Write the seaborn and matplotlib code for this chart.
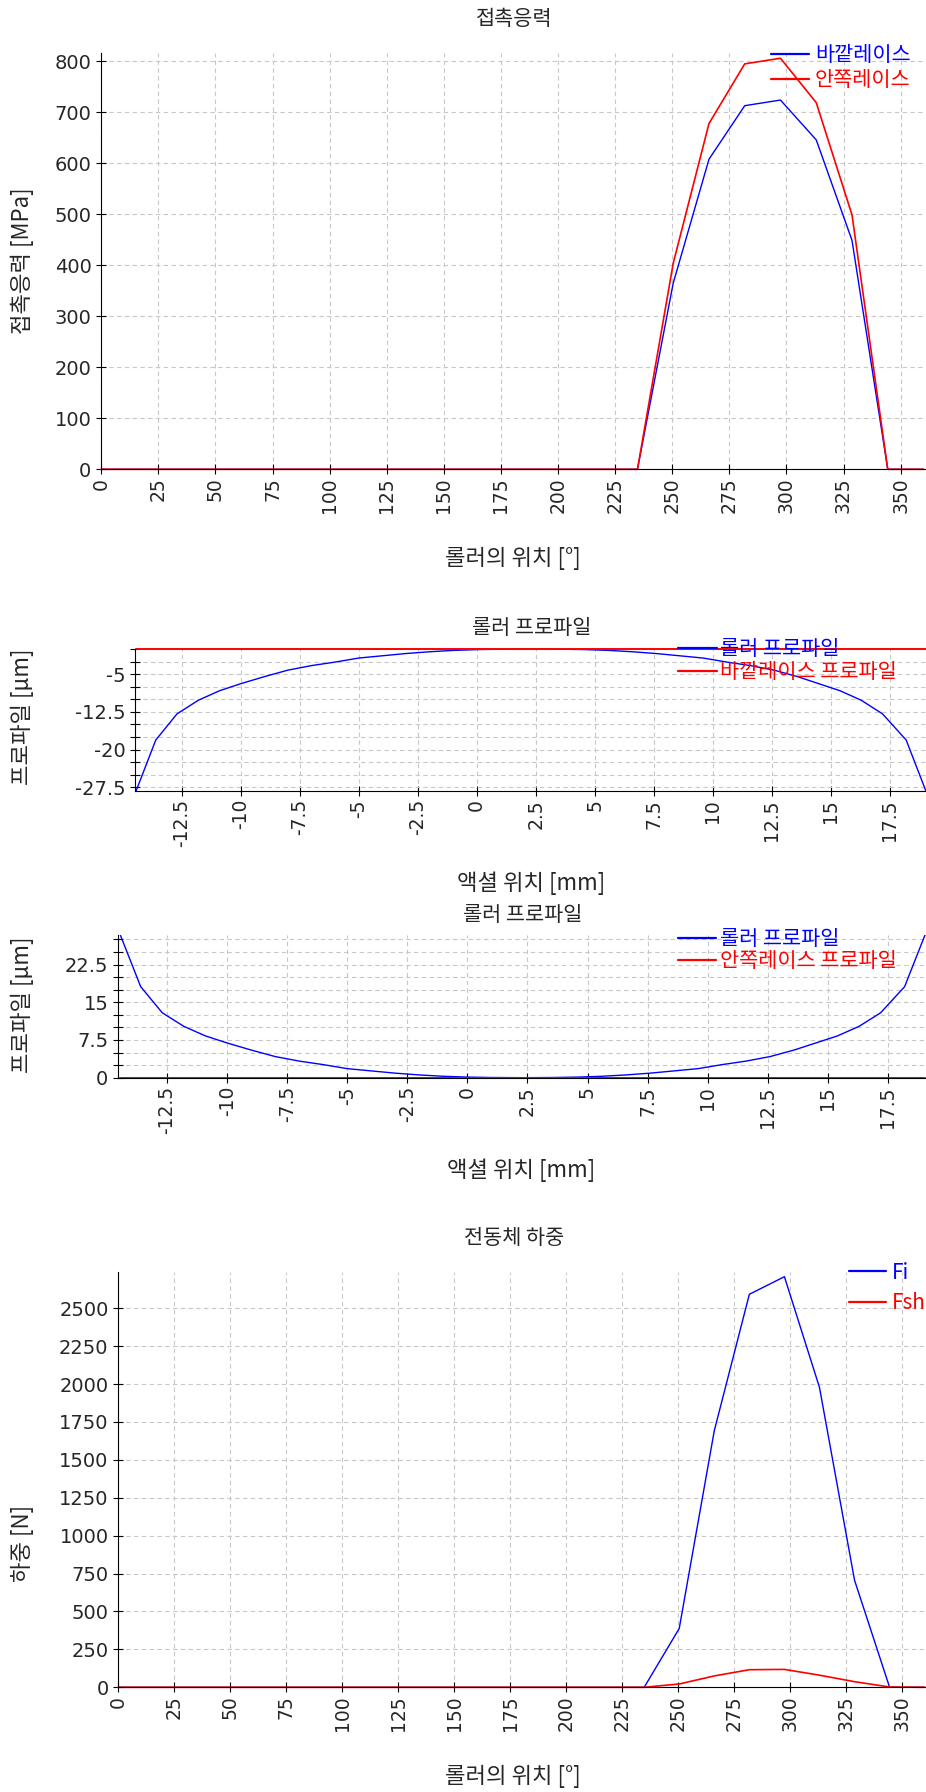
import matplotlib
matplotlib.use("Agg")
import matplotlib.pyplot as plt
import seaborn as sns
from matplotlib.ticker import FixedLocator, FuncFormatter, MultipleLocator

sns.set_theme(style="white")
plt.rcParams["font.family"] = ["Noto Sans CJK KR", "DejaVu Sans"]
plt.rcParams["axes.unicode_minus"] = False

# ---------------- 데이터 ----------------
# 롤러 위치 [°]
roller_angle = [0.0, 15.65, 31.30, 46.96, 62.61, 78.26, 93.91, 109.57, 125.22, 140.87,
                156.52, 172.17, 187.83, 203.48, 219.13, 234.78, 250.43, 266.09, 281.74,
                297.39, 313.04, 328.70, 344.35, 360.0]
# 접촉응력 [MPa]
stress_outer = [0, 0, 0, 0, 0, 0, 0, 0, 0, 0, 0, 0, 0, 0, 0,
                0, 365, 608, 713, 724, 646, 449, 0, 0]
stress_inner = [0, 0, 0, 0, 0, 0, 0, 0, 0, 0, 0, 0, 0, 0, 0,
                0, 404, 678, 795, 806, 719, 499, 0, 0]
# 전동체 하중 [N]
load_fi = [0, 0, 0, 0, 0, 0, 0, 0, 0, 0, 0, 0, 0, 0, 0,
           0, 388, 1693, 2592, 2708, 1978, 706, 0, 0]
load_fsh = [0, 0, 0, 0, 0, 0, 0, 0, 0, 0, 0, 0, 0, 0, 0,
            0, 22, 75, 116, 118, 80, 37, 2, 0]

# 액셜 위치 [mm] / 롤러 크라우닝 [µm]
axial_pos = [-14.45, -13.6, -12.7, -11.8, -10.9, -10.0, -9.0, -8.0, -7.0, -6.0, -5.0,
             -4.0, -3.0, -2.0, -1.0, 0.0, 1.0, 2.3, 3.6, 4.6, 5.6, 6.6, 7.6, 8.6, 9.6,
             10.6, 11.6, 12.6, 13.6, 14.5, 15.4, 16.3, 17.2, 18.2, 19.05]
crown_drop = [28.4, 18.1, 12.9, 10.2, 8.3, 6.9, 5.5, 4.2, 3.3, 2.6, 1.8, 1.35, 0.9,
              0.55, 0.28, 0.12, 0.04, 0.0, 0.04, 0.12, 0.28, 0.55, 0.9, 1.35, 1.8,
              2.6, 3.3, 4.2, 5.5, 6.9, 8.3, 10.2, 12.9, 18.1, 28.4]
race_pos = [-14.45, 19.05]
race_profile = [0.0, 0.0]

BLUE = "#0000ff"
RED = "#ff0000"

W, H = 926, 1792
fig = plt.figure(figsize=(W / 100, H / 100), dpi=100)


def rect(left, top, right, bottom):
    return [left / W, 1 - bottom / H, (right - left) / W, (bottom - top) / H]


def style(ax):
    ax.spines[["top", "right"]].set_visible(False)
    for s in ("left", "bottom"):
        ax.spines[s].set_color("black")
        ax.spines[s].set_linewidth(0.8)
    ax.set_axisbelow(True)
    ax.grid(True, which="both", color="#c8c8c8", linestyle=(0, (4, 3)), linewidth=0.8)
    ax.tick_params(which="both", direction="inout", length=7, width=0.8, color="black",
                   left=True, bottom=True)
    ax.tick_params(axis="x", which="both", labelrotation=90, labelsize=13.5, pad=2.5,
                   labelfontfamily="DejaVu Sans")
    ax.tick_params(axis="y", which="both", labelsize=14, pad=3.5,
                   labelfontfamily="DejaVu Sans")


def labels(ax, xlabel, xpos, ylabel, ypos):
    ax.set_xlabel(xlabel, fontsize=16, va="center", ha="center")
    ax.xaxis.set_label_coords(xpos[0] / W, 1 - xpos[1] / H, transform=fig.transFigure)
    ax.set_ylabel(ylabel, fontsize=16, va="center", ha="center")
    ax.yaxis.set_label_coords(ypos[0] / W, 1 - ypos[1] / H, transform=fig.transFigure)


def title(text, x, y):
    fig.text(x / W, 1 - y / H, text, ha="center", va="center", fontsize=15)


def legend(ax, x, row1, hl, htp, ls, fs=15):
    leg = ax.legend(loc="upper left", bbox_to_anchor=(x / W, 1 - (row1 - 10) / H),
                    bbox_transform=fig.transFigure, frameon=False, borderpad=0,
                    borderaxespad=0, handlelength=hl, handletextpad=htp,
                    labelspacing=ls, fontsize=fs)
    for t, ln in zip(leg.get_texts(), leg.get_lines()):
        t.set_color(ln.get_color())
        ln.set_linewidth(1.6)


fmt_g = FuncFormatter(lambda v, p: f"{v:g}")

# =============================================
# 1. 접촉응력
# =============================================
ax1 = fig.add_axes(rect(101.2, 53.3, 926, 469.3))
sns.lineplot(x=roller_angle, y=stress_outer, color=BLUE, lw=1.0, label="바깥레이스",
             ax=ax1, clip_on=False)
sns.lineplot(x=roller_angle, y=stress_inner, color=RED, lw=1.2, label="안쪽레이스",
             ax=ax1, clip_on=False)
ax1.set_xlim(0, 361.1)
ax1.set_ylim(0, 815.7)
ax1.xaxis.set_major_locator(MultipleLocator(25))
ax1.yaxis.set_major_locator(MultipleLocator(100))
style(ax1)
labels(ax1, "롤러의 위치 [°]", (513, 558), "접촉응력 [MPa]", (22, 261))
title("접촉응력", 513.7, 19)
legend(ax1, 771.3, 54, 1.8, 0.3, 0.15)

# =============================================
# 2. 롤러 프로파일 (바깥레이스)
# =============================================
ax2 = fig.add_axes(rect(135, 649, 926, 790.7))
sns.lineplot(x=axial_pos, y=[-v for v in crown_drop], color=BLUE, lw=1.0,
             label="롤러 프로파일", ax=ax2)
sns.lineplot(x=race_pos, y=race_profile, color=RED, lw=1.4,
             label="바깥레이스 프로파일", ax=ax2, clip_on=False)
ax2.set_xlim(-14.48, 19.04)
ax2.set_ylim(-28.17, 0)
ax2.xaxis.set_major_locator(FixedLocator([-12.5, -10, -7.5, -5, -2.5, 0, 2.5, 5, 7.5,
                                          10, 12.5, 15, 17.5]))
ax2.xaxis.set_major_formatter(fmt_g)
ax2.yaxis.set_major_locator(FixedLocator([-27.5, -20, -12.5, -5]))
ax2.yaxis.set_minor_locator(FixedLocator([-25, -22.5, -17.5, -15, -10, -7.5, -2.5, 0]))
ax2.yaxis.set_major_formatter(fmt_g)
style(ax2)
labels(ax2, "액셜 위치 [mm]", (531, 883), "프로파일 [µm]", (22, 717))
title("롤러 프로파일", 531.6, 628)
legend(ax2, 678, 648.3, 1.85, 0.17, 0.05)

# =============================================
# 3. 롤러 프로파일 (안쪽레이스)
# =============================================
ax3 = fig.add_axes(rect(118.1, 935, 926, 1077.7))
sns.lineplot(x=axial_pos, y=crown_drop, color=BLUE, lw=1.0,
             label="롤러 프로파일", ax=ax3)
sns.lineplot(x=race_pos, y=race_profile, color=RED, lw=1.4,
             label="안쪽레이스 프로파일", ax=ax3, clip_on=False)
ax3.set_xlim(-14.54, 19.09)
ax3.set_ylim(0, 28.37)
ax3.xaxis.set_major_locator(FixedLocator([-12.5, -10, -7.5, -5, -2.5, 0, 2.5, 5, 7.5,
                                          10, 12.5, 15, 17.5]))
ax3.xaxis.set_major_formatter(fmt_g)
ax3.yaxis.set_major_locator(FixedLocator([0, 7.5, 15, 22.5]))
ax3.yaxis.set_minor_locator(FixedLocator([2.5, 5, 10, 12.5, 17.5, 20, 25, 27.5]))
ax3.yaxis.set_major_formatter(fmt_g)
style(ax3)
labels(ax3, "액셜 위치 [mm]", (521, 1170), "프로파일 [µm]", (22, 1005))
title("롤러 프로파일", 522.7, 915)
legend(ax3, 678, 938.3, 1.8, 0.22, 0.0)

# =============================================
# 4. 전동체 하중
# =============================================
ax4 = fig.add_axes(rect(118.3, 1272.3, 926, 1687.3))
sns.lineplot(x=roller_angle, y=load_fi, color=BLUE, lw=1.0, label="Fi",
             ax=ax4, clip_on=False)
sns.lineplot(x=roller_angle, y=load_fsh, color=RED, lw=1.2, label="Fsh",
             ax=ax4, clip_on=False)
ax4.set_xlim(0, 360.6)
ax4.set_ylim(0, 2737)
ax4.xaxis.set_major_locator(MultipleLocator(25))
ax4.yaxis.set_major_locator(MultipleLocator(250))
style(ax4)
labels(ax4, "롤러의 위치 [°]", (513, 1776.7), "하중 [N]", (22, 1543))
title("전동체 하중", 514, 1238)
legend(ax4, 849.3, 1271.7, 1.75, 0.27, 0.4)

fig.savefig("out.png", dpi=100)
